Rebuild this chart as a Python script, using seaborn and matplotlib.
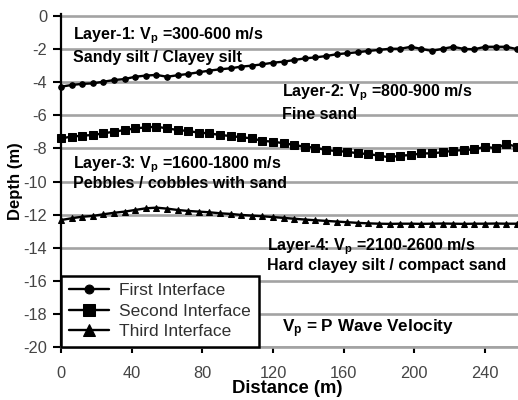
import matplotlib
matplotlib.use("Agg")
import matplotlib.pyplot as plt
import numpy as np
import pandas as pd
import seaborn as sns

# ---------------- data ----------------
distance = list(range(0, 259, 6))  # m

first_interface = [
    -4.27, -4.17, -4.10, -4.07, -3.97, -3.87, -3.81, -3.67, -3.60, -3.56,
    -3.67, -3.58, -3.50, -3.40, -3.30, -3.22, -3.16, -3.06, -3.00, -2.92,
    -2.82, -2.76, -2.66, -2.56, -2.50, -2.42, -2.31, -2.25, -2.19, -2.11,
    -2.05, -1.98, -1.98, -1.86, -1.99, -2.11, -1.98, -1.86, -1.99, -2.01,
    -1.86, -1.86, -1.86, -2.00,
]
second_interface = [
    -7.39, -7.29, -7.23, -7.19, -7.09, -6.99, -6.89, -6.79, -6.73, -6.69,
    -6.79, -6.89, -6.95, -7.05, -7.09, -7.19, -7.25, -7.33, -7.39, -7.55,
    -7.59, -7.69, -7.79, -7.90, -7.96, -8.10, -8.16, -8.20, -8.30, -8.34,
    -8.44, -8.54, -8.44, -8.40, -8.30, -8.30, -8.23, -8.14, -8.10, -8.06,
    -7.90, -7.99, -7.73, -7.90,
]
third_interface = [
    -12.33, -12.22, -12.13, -12.08, -11.98, -11.89, -11.82, -11.72, -11.62, -11.58,
    -11.64, -11.72, -11.78, -11.82, -11.86, -11.92, -11.96, -12.02, -12.06, -12.10,
    -12.15, -12.20, -12.25, -12.30, -12.34, -12.38, -12.42, -12.46, -12.50, -12.53,
    -12.55, -12.56, -12.55, -12.55, -12.56, -12.55, -12.54, -12.55, -12.56, -12.55,
    -12.55, -12.54, -12.55, -12.55,
]
series_names = ["First Interface", "Second Interface", "Third Interface"]
x_ticks = [0, 40, 80, 120, 160, 200, 240]
y_ticks = [0, -2, -4, -6, -8, -10, -12, -14, -16, -18, -20]

layer_labels = [
    ("Layer-1: $\\mathbf{V_p}$ =300-600 m/s", 6.6, -1.41),
    ("Sandy silt / Clayey silt", 6.6, -2.76),
    ("Layer-2: $\\mathbf{V_p}$ =800-900 m/s", 125.0, -4.87),
    ("Fine sand", 125.0, -6.22),
    ("Layer-3: $\\mathbf{V_p}$ =1600-1800 m/s", 6.6, -9.20),
    ("Pebbles / cobbles with sand", 6.6, -10.41),
    ("Layer-4: $\\mathbf{V_p}$ =2100-2600 m/s", 116.5, -14.14),
    ("Hard clayey silt / compact sand", 116.5, -15.35),
]
note_label = ("$\\mathbf{V_p}$ = P Wave Velocity", 125.0, -19.11)

# ---------------- style ----------------
sns.set_style("white")
plt.rcParams["font.family"] = ["Liberation Sans", "DejaVu Sans"]
plt.rcParams["axes.unicode_minus"] = False
plt.rcParams["mathtext.fontset"] = "custom"
plt.rcParams["mathtext.rm"] = "Liberation Sans"
plt.rcParams["mathtext.bf"] = "Liberation Sans:bold"
plt.rcParams["mathtext.it"] = "Liberation Sans:italic"

W, H = 518, 400
fig = plt.figure(figsize=(W / 100, H / 100), dpi=100)
px_per_unit_y = 331 / 20.0
top_extra = 0.1
ax_left, ax_right = 61, 518
ax_bottom_px, ax_top_px = 347, 16 - top_extra * px_per_unit_y
ax = fig.add_axes([ax_left / W, (H - ax_bottom_px) / H,
                   (ax_right - ax_left) / W, (ax_bottom_px - ax_top_px) / H])

df = pd.DataFrame({
    "Distance": distance * 3,
    "Depth": first_interface + second_interface + third_interface,
    "Interface": [series_names[0]] * len(distance)
                 + [series_names[1]] * len(distance)
                 + [series_names[2]] * len(distance),
})

markers = ["o", "s", "^"]
msizes = [4.0, 5.2, 5.0]
for name, mk, ms in zip(series_names, markers, msizes):
    sns.lineplot(data=df[df["Interface"] == name], x="Distance", y="Depth",
                 color="black", marker=mk, markersize=ms, markeredgecolor="black",
                 markerfacecolor="black", linewidth=1.7, label=name, ax=ax,
                 errorbar=None, clip_on=False, zorder=4)

ax.set_xlim(0, (ax_right - ax_left) / (70.67 / 40))
ax.set_ylim(-20, top_extra)
ax.set_xticks(x_ticks)
ax.set_yticks(y_ticks)
ax.set_xticklabels([str(v) for v in x_ticks])
ax.set_yticklabels([str(v) for v in y_ticks])

ax.yaxis.grid(True, color="#a3a3a3", linewidth=1.9)
ax.xaxis.grid(False)
ax.set_axisbelow(True)

for s in ["top", "right"]:
    ax.spines[s].set_visible(False)
ax.spines["left"].set_color("black")
ax.spines["left"].set_linewidth(1.6)
ax.spines["bottom"].set_color("#a3a3a3")
ax.spines["bottom"].set_linewidth(1.9)

ax.tick_params(axis="y", which="major", left=True, length=6, width=1.5,
               color="black", pad=4, labelsize=11.8, labelcolor="#454545")
ax.tick_params(axis="x", which="major", bottom=True, length=4, width=1.5,
               color="black", pad=10, labelsize=11.8, labelcolor="#454545")

ax.set_xlabel("Distance (m)", fontsize=13.3, fontweight="bold", color="black")
ax.set_ylabel("Depth (m)", fontsize=12, fontweight="bold", color="black")
ax.xaxis.set_label_coords((287 - ax_left) / (ax_right - ax_left),
                          (ax_bottom_px - 380) / (ax_bottom_px - ax_top_px))
ax.yaxis.set_label_coords((23 - ax_left) / (ax_right - ax_left), 0.5)

for txt, x, y in layer_labels:
    ax.text(x, y, txt, fontsize=11.5, fontweight="bold", color="black",
            ha="left", va="baseline", zorder=3)
ax.text(note_label[1], note_label[2], note_label[0], fontsize=12.3,
        fontweight="bold", color="black", ha="left", va="baseline", zorder=6)

leg = ax.legend(loc="lower left", bbox_to_anchor=(0, 0), borderaxespad=0,
                frameon=True, fancybox=False, edgecolor="black", framealpha=1,
                fontsize=12.5, handlelength=2.3, handletextpad=0.6,
                labelspacing=0.3, borderpad=0.45, markerscale=1.6)
leg.get_frame().set_linewidth(1.8)
leg.set_zorder(5)
for t in leg.get_texts():
    t.set_color("#303030")

fig.savefig("out.png", dpi=100)
